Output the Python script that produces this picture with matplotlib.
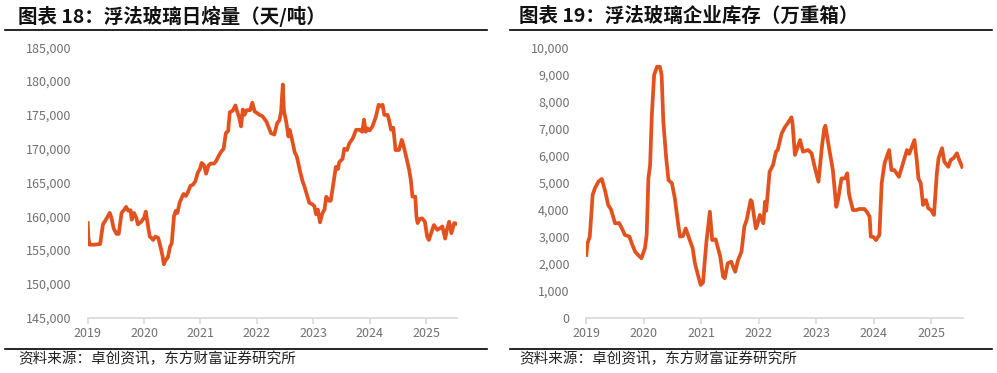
import matplotlib
matplotlib.use('Agg')
import matplotlib.pyplot as plt
from matplotlib.ticker import FuncFormatter
from matplotlib.lines import Line2D

plt.rcParams['font.family'] = ['Noto Sans CJK SC', 'DejaVu Sans']

# chart 18: daily float glass melt volume (t/day), x in decimal years
melt_years = [
    2019.00, 2019.01, 2019.03, 2019.12, 2019.22, 2019.27, 2019.33, 2019.39, 2019.42, 2019.46,
    2019.51, 2019.55, 2019.60, 2019.65, 2019.68, 2019.72, 2019.76, 2019.78, 2019.82, 2019.86,
    2019.89, 2019.95, 2020.00, 2020.03, 2020.07, 2020.10, 2020.13, 2020.16, 2020.20, 2020.25,
    2020.29, 2020.33, 2020.35, 2020.38, 2020.42, 2020.46, 2020.49, 2020.53, 2020.56, 2020.59,
    2020.63, 2020.67, 2020.70, 2020.74, 2020.78, 2020.82, 2020.87, 2020.91, 2020.95, 2020.99,
    2021.02, 2021.06, 2021.10, 2021.14, 2021.18, 2021.24, 2021.28, 2021.32, 2021.37, 2021.41,
    2021.45, 2021.49, 2021.52, 2021.57, 2021.62, 2021.65, 2021.68, 2021.72, 2021.75, 2021.78,
    2021.82, 2021.88, 2021.92, 2021.96, 2022.00, 2022.05, 2022.10, 2022.17, 2022.25, 2022.31,
    2022.36, 2022.40, 2022.43, 2022.46, 2022.48, 2022.52, 2022.56, 2022.58, 2022.62, 2022.67,
    2022.71, 2022.77, 2022.81, 2022.84, 2022.88, 2022.93, 2022.98, 2023.02, 2023.05, 2023.08,
    2023.12, 2023.16, 2023.20, 2023.23, 2023.28, 2023.31, 2023.36, 2023.40, 2023.44, 2023.46,
    2023.52, 2023.55, 2023.60, 2023.64, 2023.70, 2023.76, 2023.82, 2023.87, 2023.90, 2023.93,
    2023.96, 2024.00, 2024.05, 2024.11, 2024.16, 2024.20, 2024.23, 2024.26, 2024.32, 2024.35,
    2024.38, 2024.42, 2024.46, 2024.52, 2024.57, 2024.60, 2024.64, 2024.70, 2024.73, 2024.76,
    2024.81, 2024.83, 2024.85, 2024.89, 2024.93, 2024.98, 2025.02, 2025.05, 2025.11, 2025.14,
    2025.20, 2025.24, 2025.29, 2025.34, 2025.37, 2025.41, 2025.45, 2025.50, 2025.54,
]
melt_values = [
    159000, 157000, 155800, 155800, 155900, 158800, 159600, 160500, 159800, 158200,
    157400, 157400, 160500, 161000, 161400, 160800, 160900, 159500, 160500, 159800,
    158800, 159200, 159800, 160700, 158500, 157000, 156800, 156500, 157000, 156800,
    155500, 154000, 152900, 153500, 153900, 155500, 156000, 160000, 160800, 160500,
    162000, 162800, 163300, 163000, 163600, 164500, 164700, 165200, 166400, 167000,
    167900, 167600, 166300, 167500, 167800, 167800, 168200, 168900, 169600, 170000,
    172300, 172600, 175400, 175600, 176400, 175500, 174800, 173300, 175800, 175000,
    175700, 175700, 176800, 175500, 175300, 175000, 174800, 174000, 172300, 172100,
    173800, 174200, 175500, 179500, 175600, 174000, 171800, 172800, 171500, 169500,
    168800, 166500, 165200, 164500, 163400, 162000, 161800, 161500, 160300, 161000,
    159100, 160400, 161000, 162900, 162300, 162300, 165000, 167300, 167000, 168000,
    168500, 170000, 169800, 170800, 171500, 172800, 172800, 172500, 174300, 172500,
    173000, 172700, 173300, 174700, 176500, 176300, 176500, 175000, 175000, 174000,
    172800, 173100, 169800, 169800, 171300, 170500, 169100, 166900, 165400, 162900,
    162900, 160000, 159000, 159600, 159700, 159200, 157000, 156500, 158000, 158700,
    158000, 158200, 158500, 156700, 158000, 159200, 157500, 159000, 158900,
]

# chart 19: float glass inventory at producers (10k boxes)
stock_years = [
    2019.00, 2019.02, 2019.06, 2019.11, 2019.15, 2019.21, 2019.27, 2019.33, 2019.38, 2019.43,
    2019.50, 2019.57, 2019.62, 2019.67, 2019.75, 2019.79, 2019.85, 2019.90, 2019.96, 2020.02,
    2020.05, 2020.08, 2020.11, 2020.14, 2020.18, 2020.23, 2020.28, 2020.31, 2020.34, 2020.39,
    2020.43, 2020.49, 2020.54, 2020.60, 2020.63, 2020.68, 2020.73, 2020.77, 2020.85, 2020.89,
    2020.95, 2020.99, 2021.03, 2021.09, 2021.15, 2021.19, 2021.25, 2021.33, 2021.38, 2021.41,
    2021.46, 2021.52, 2021.59, 2021.64, 2021.70, 2021.75, 2021.79, 2021.86, 2021.88, 2021.95,
    2021.97, 2022.02, 2022.08, 2022.11, 2022.13, 2022.19, 2022.25, 2022.30, 2022.33, 2022.40,
    2022.46, 2022.50, 2022.57, 2022.59, 2022.63, 2022.68, 2022.72, 2022.77, 2022.86, 2022.92,
    2022.98, 2023.04, 2023.10, 2023.14, 2023.16, 2023.23, 2023.29, 2023.35, 2023.38, 2023.44,
    2023.50, 2023.54, 2023.57, 2023.59, 2023.64, 2023.70, 2023.75, 2023.84, 2023.88, 2023.93,
    2023.95, 2024.00, 2024.04, 2024.10, 2024.14, 2024.19, 2024.27, 2024.31, 2024.36, 2024.44,
    2024.51, 2024.58, 2024.62, 2024.71, 2024.75, 2024.78, 2024.82, 2024.86, 2024.91, 2024.95,
    2025.00, 2025.05, 2025.10, 2025.13, 2025.19, 2025.23, 2025.30, 2025.34, 2025.39, 2025.45,
    2025.49, 2025.54,
]
stock_values = [
    2320, 2750, 3000, 4540, 4790, 5030, 5130, 4660, 4170, 4000,
    3490, 3500, 3300, 3060, 3000, 2750, 2440, 2320, 2200, 2570,
    3060, 5150, 5650, 7500, 8980, 9280, 9280, 8980, 7250, 5900,
    5090, 4970, 4420, 3430, 3000, 3020, 3300, 3050, 2570, 2010,
    1520, 1210, 1300, 2810, 3920, 2870, 2900, 2260, 1520, 1460,
    2010, 2070, 1700, 2130, 2440, 3370, 3610, 4350, 4300, 3300,
    3400, 3800, 3490, 4290, 3950, 5400, 5650, 6140, 6200, 6820,
    7060, 7180, 7410, 7150, 6020, 6320, 6570, 6140, 6200, 6080,
    5520, 5030, 6320, 7000, 7100, 6200, 5460, 4100, 4350, 5150,
    5150, 5340, 4600, 4400, 3980, 3980, 4020, 4020, 3920, 3740,
    3000, 2980, 2870, 3060, 4970, 5710, 6200, 5460, 5460, 5210,
    5710, 6200, 6060, 6570, 5830, 5150, 4970, 4170, 4350, 4050,
    3980, 3800, 5340, 5900, 6270, 5770, 5580, 5830, 5900, 6080,
    5830, 5580,
]

year_ticks = [2019, 2020, 2021, 2022, 2023, 2024, 2025]
titles = ['图表 18：浮法玻璃日熔量（天/吨）', '图表 19：浮法玻璃企业库存（万重箱）']
source = '资料来源：卓创资讯，东方财富证券研究所'

line_color = '#E2521F'
label_color = '#707070'
grid_gray = '#D9D9D9'

fig = plt.figure(figsize=(9.97, 3.73), dpi=100)


def style_axes(ax, ylim, yticks):
    ax.set_xlim(2019, 2025.55)
    ax.set_ylim(*ylim)
    ax.set_yticks(yticks)
    ax.set_xticks(year_ticks)
    ax.set_xticklabels([str(y) for y in year_ticks])
    ax.yaxis.set_major_formatter(FuncFormatter(lambda v, p: '{:,}'.format(int(v))))
    for s in ['top', 'right', 'left']:
        ax.spines[s].set_visible(False)
    ax.spines['bottom'].set_color(grid_gray)
    ax.spines['bottom'].set_linewidth(1.2)
    ax.tick_params(axis='x', colors=grid_gray, length=4, width=1.2, pad=3,
                   labelcolor=label_color, labelsize=9)
    ax.tick_params(axis='y', length=0, pad=12, labelcolor=label_color, labelsize=9)


# left chart
ax1 = fig.add_axes([0.088, 0.1483, 0.3704, 0.7249])
ax1.plot(melt_years, melt_values, color=line_color, lw=2.7, solid_joinstyle='round')
style_axes(ax1, (145000, 185000), range(145000, 185001, 5000))

# right chart
ax2 = fig.add_axes([0.5881, 0.1483, 0.3775, 0.7249])
ax2.plot(stock_years, stock_values, color=line_color, lw=2.7, solid_joinstyle='round')
style_axes(ax2, (0, 10000), range(0, 10001, 1000))

# titles, rules and source notes
for x0, x1, tx, title in [(5, 487, 18, titles[0]), (510, 992, 519, titles[1])]:
    fig.text(tx / 997, 1 - 16 / 373, title, fontsize=14, fontweight='bold',
             va='center', ha='left', color='#111111')
    fig.add_artist(Line2D([x0 / 997, x1 / 997], [1 - 29.5 / 373] * 2,
                          color='black', lw=1.2, transform=fig.transFigure))
    fig.add_artist(Line2D([x0 / 997, x1 / 997], [1 - 349 / 373] * 2,
                          color='black', lw=1.2, transform=fig.transFigure))
    fig.text(tx / 997, 1 - 359 / 373, source, fontsize=10.5, va='center', ha='left',
             color='#222222')

fig.savefig('out.png', dpi=100)
